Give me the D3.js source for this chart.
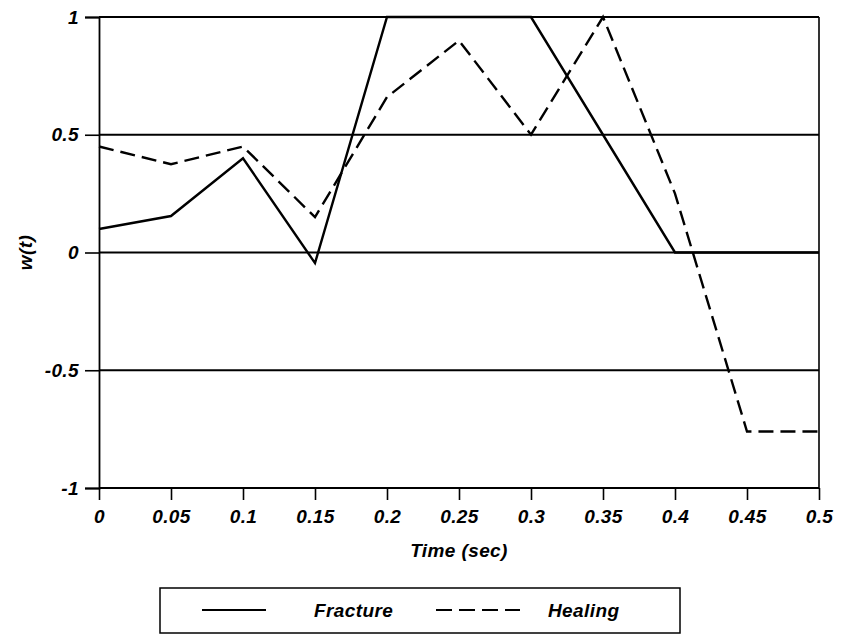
<!DOCTYPE html>
<html>
<head>
<meta charset="utf-8">
<script src="https://cdn.jsdelivr.net/npm/d3@7"></script>
<style>
  body { margin: 0; background: #fff; }
  svg text { font-family: "Liberation Sans", Arial, sans-serif; font-style: italic; font-weight: bold; fill: #000; letter-spacing: 0.4px; }
</style>
</head>
<body>
<svg id="chart" width="841" height="642"></svg>
<script>
// data
const times = [0, 0.05, 0.1, 0.15, 0.2, 0.25, 0.3, 0.35, 0.4, 0.45, 0.5];
const fracture = [0.1, 0.155, 0.4, -0.045, 1, 1, 1, 0.5, 0, 0, 0];
const healing = [0.45, 0.375, 0.45, 0.15, 0.66, 0.9, 0.5, 1, 0.25, -0.76, -0.76];
const xTicks = [0, 0.05, 0.1, 0.15, 0.2, 0.25, 0.3, 0.35, 0.4, 0.45, 0.5];
const yTicks = [-1, -0.5, 0, 0.5, 1];
const seriesNames = ["Fracture", "Healing"];

const svg = d3.select("#chart");
const margin = { left: 99, right: 22, top: 17, bottom: 154 };
const width = 841 - margin.left - margin.right;
const height = 642 - margin.top - margin.bottom;
const fontFam = "Liberation Sans, Arial, sans-serif";
const fontSize = 19;

const g = svg.append("g")
    .attr("transform", `translate(${margin.left},${margin.top})`);

const xScale = d3.scaleLinear().domain([0, 0.5]).range([0, width]);
const yScale = d3.scaleLinear().domain([-1, 1]).range([height, 0]);

// horizontal grid lines at each y tick
g.selectAll("line.grid")
    .data(yTicks)
    .enter().append("line")
    .attr("class", "grid")
    .attr("x1", 0).attr("x2", width)
    .attr("y1", d => yScale(d)).attr("y2", d => yScale(d))
    .attr("stroke", "#000").attr("stroke-width", 1.8);

// right border
g.append("line")
    .attr("x1", width).attr("x2", width)
    .attr("y1", 0).attr("y2", height)
    .attr("stroke", "#000").attr("stroke-width", 1.6);

// plain hyphen for negatives, like the original
const fmt = d => String(+d.toFixed(2));

// axes
const xAxis = g.append("g")
    .attr("transform", `translate(0,${height})`)
    .call(d3.axisBottom(xScale).tickValues(xTicks).tickSize(12).tickPadding(10)
        .tickFormat(fmt));

const yAxis = g.append("g")
    .call(d3.axisLeft(yScale).tickValues(yTicks).tickSize(14).tickPadding(6)
        .tickFormat(fmt));

[xAxis, yAxis].forEach(ax => {
    ax.attr("font-family", fontFam);
    ax.select(".domain").attr("stroke-width", 1.8);
    ax.selectAll(".tick line").attr("stroke-width", 1.6);
    ax.selectAll("text").attr("font-size", fontSize);
});
xAxis.select(".domain").remove();

// axis titles
svg.append("text")
    .attr("x", margin.left + width / 2)
    .attr("y", 557)
    .attr("text-anchor", "middle")
    .attr("font-size", fontSize)
    .text("Time (sec)");

svg.append("text")
    .attr("transform", `translate(32,${margin.top + height / 2}) rotate(-90)`)
    .attr("text-anchor", "middle")
    .attr("font-size", fontSize)
    .text("w(t)");

// series lines
const line = d3.line()
    .x(d => xScale(d[0]))
    .y(d => yScale(d[1]));

g.append("path")
    .datum(times.map((t, i) => [t, fracture[i]]))
    .attr("d", line)
    .attr("fill", "none")
    .attr("stroke", "#000")
    .attr("stroke-width", 2.4);

g.append("path")
    .datum(times.map((t, i) => [t, healing[i]]))
    .attr("d", line)
    .attr("fill", "none")
    .attr("stroke", "#000")
    .attr("stroke-width", 2.4)
    .attr("stroke-dasharray", "15,7");

// legend
const legend = svg.append("g").attr("transform", "translate(160,588)");
legend.append("rect")
    .attr("width", 520).attr("height", 45)
    .attr("fill", "none").attr("stroke", "#000").attr("stroke-width", 1.5);

const items = legend.selectAll("g.item")
    .data(seriesNames)
    .enter().append("g")
    .attr("class", "item")
    .attr("transform", (d, i) => `translate(${i === 0 ? 42 : 276},22)`);

items.append("line")
    .attr("x1", 0).attr("x2", (d, i) => i === 0 ? 64 : 84)
    .attr("stroke", "#000").attr("stroke-width", 2)
    .attr("stroke-dasharray", (d, i) => i === 1 ? "16,7" : null);

items.append("text")
    .attr("x", 112)
    .attr("dy", "0.35em")
    .attr("font-size", fontSize)
    .text(d => d);
</script>
</body>
</html>
